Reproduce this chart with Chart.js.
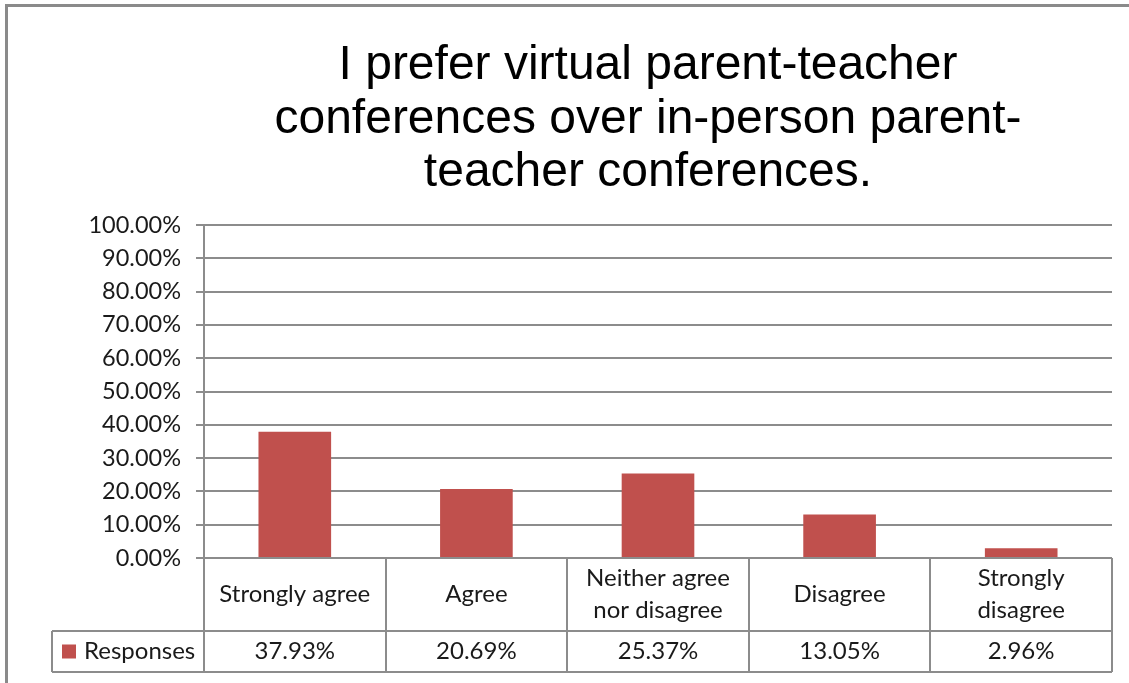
<!DOCTYPE html>
<html>
<head>
<meta charset="utf-8">
<title>Virtual parent-teacher conferences</title>
<script src="https://cdn.jsdelivr.net/npm/chart.js@4/dist/chart.umd.min.js"></script>
<style>
    html, body { margin: 0; padding: 0; background: #ffffff; }
    #wrap { width: 1129px; height: 683px; position: relative; }
</style>
</head>
<body>
<div id="wrap"><canvas id="myChart" width="1129" height="683"></canvas></div>
<script>
let titleLines = ["I prefer virtual parent-teacher", "conferences over in-person parent-", "teacher conferences."];
let categories = [["Strongly agree"], ["Agree"], ["Neither agree", "nor disagree"], ["Disagree"], ["Strongly", "disagree"]];
let seriesName = "Responses";
let responses = [37.93, 20.69, 25.37, 13.05, 2.96];
let yTicks = [0, 10, 20, 30, 40, 50, 60, 70, 80, 90, 100];

let barColor = "#C0504D";
let lineColor = "#8c8c8c";
let labelFont = '24px Lato';
let textColor = "#1a1a1a";

// bordo esterno, titolo e tabella dati sotto il grafico
let excelStuff = {
    id: "excelStuff",
    beforeDraw(chart) {
        let ctx = chart.ctx;
        ctx.save();
        ctx.fillStyle = "#ffffff";
        ctx.fillRect(0, 0, chart.width, chart.height);
        ctx.strokeStyle = "#8a8a8a";
        ctx.lineWidth = 3;
        ctx.beginPath();
        ctx.moveTo(6.5, chart.height);
        ctx.lineTo(6.5, 5.5);
        ctx.lineTo(chart.width, 5.5);
        ctx.stroke();

        ctx.fillStyle = "#000000";
        ctx.font = '48px "Liberation Sans"';
        ctx.textAlign = "center";
        ctx.textBaseline = "alphabetic";
        titleLines.forEach((line, i) => {
            ctx.fillText(line, 648, 79 + i * 53.5);
        });
        ctx.restore();
    },
    afterDraw(chart) {
        let ctx = chart.ctx;
        let x = chart.scales.x;
        let area = chart.chartArea;
        let catW = (x.right - x.left) / categories.length;
        let top = area.bottom;
        let rowY = top + 73;
        let bottom = rowY + 41;
        let legendLeft = 52;

        ctx.save();
        ctx.strokeStyle = lineColor;
        ctx.lineWidth = 2;
        ctx.beginPath();
        for (let i = 0; i <= categories.length; i++) {
            let px = Math.round(x.left + i * catW);
            ctx.moveTo(px, top);
            ctx.lineTo(px, bottom);
        }
        ctx.moveTo(legendLeft, rowY);
        ctx.lineTo(x.right, rowY);
        ctx.moveTo(legendLeft, bottom);
        ctx.lineTo(x.right, bottom);
        ctx.moveTo(legendLeft, rowY);
        ctx.lineTo(legendLeft, bottom);
        ctx.stroke();

        ctx.fillStyle = textColor;
        ctx.font = labelFont;
        ctx.textAlign = "center";
        ctx.textBaseline = "middle";
        categories.forEach((lines, i) => {
            let cx = x.getPixelForValue(i);
            let cy = (top + rowY) / 2;
            lines.forEach((line, j) => {
                ctx.fillText(line, cx, cy + (j - (lines.length - 1) / 2) * 32);
            });
            ctx.fillText(responses[i].toFixed(2) + "%", cx, (rowY + bottom) / 2);
        });

        // legenda nella tabella
        ctx.fillStyle = barColor;
        ctx.fillRect(62, (rowY + bottom) / 2 - 7, 14, 14);
        ctx.fillStyle = textColor;
        ctx.textAlign = "left";
        ctx.fillText(seriesName, 84, (rowY + bottom) / 2);
        ctx.restore();
    }
};

let ctx = document.getElementById("myChart").getContext("2d");
let myChart = new Chart(ctx, {
    type: "bar",
    data: {
        labels: categories,
        datasets: [{
            label: seriesName,
            data: responses,
            backgroundColor: barColor,
            borderWidth: 0,
            categoryPercentage: 1,
            barPercentage: 0.4,
        }],
    },
    options: {
        responsive: false,
        devicePixelRatio: 1,
        animation: false,
        layout: {
            padding: { top: 225, left: 0, right: 17, bottom: 0 },
        },
        scales: {
            x: {
                ticks: { display: false },
                grid: { display: false },
                border: { display: false },
                afterFit: (scale) => { scale.height = 125; },
            },
            y: {
                min: 0,
                max: 100,
                afterBuildTicks: (scale) => { scale.ticks = yTicks.map(v => ({ value: v })); },
                ticks: {
                    padding: 15,
                    color: textColor,
                    font: { family: "Lato", size: 23.5 },
                    callback: (v) => v.toFixed(2) + "%",
                },
                grid: {
                    color: lineColor,
                    lineWidth: 2,
                    tickLength: 8,
                },
                border: { display: true, color: lineColor, width: 2 },
                afterFit: (scale) => { scale.width = 204; },
            },
        },
        plugins: {
            legend: { display: false },
            tooltip: { enabled: false },
            title: { display: false },
        },
    },
    plugins: [excelStuff],
});
</script>
</body>
</html>
